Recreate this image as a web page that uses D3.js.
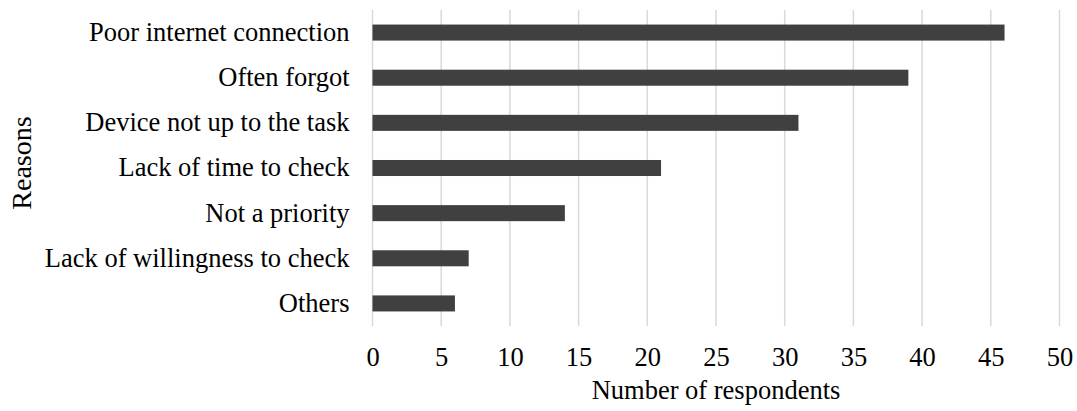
<!DOCTYPE html>
<html>
<head>
<meta charset="utf-8">
<script src="https://cdn.jsdelivr.net/npm/d3@7"></script>
<style>
  html, body { margin: 0; padding: 0; background: #fff; }
  svg { display: block; }
  text { font-family: "Liberation Serif", "Times New Roman", serif; fill: #000; }
</style>
</head>
<body>
<svg id="chart" width="1077" height="411"></svg>
<script>
// Reasons for not checking, with respondent counts
const reasons = [
  "Poor internet connection",
  "Often forgot",
  "Device not up to the task",
  "Lack of time to check",
  "Not a priority",
  "Lack of willingness to check",
  "Others"
];
const respondents = [46, 39, 31, 21, 14, 7, 6];
const xTicks = [0, 5, 10, 15, 20, 25, 30, 35, 40, 45, 50];

const svg = d3.select("#chart");
const margin = { left: 372.5, right: 1077 - 1059.5, top: 10, bottom: 411 - 326 };
const width = 1077, height = 411;
const fontSize = 26.5;

const x = d3.scaleLinear().domain([0, 50]).range([margin.left, width - margin.right]);
const y = d3.scaleBand().domain(reasons).range([margin.top, height - margin.bottom]).paddingInner(0.645).paddingOuter(0.3225);

// vertical gridlines
svg.append("g")
  .selectAll("line")
  .data(xTicks)
  .join("line")
  .attr("x1", d => x(d)).attr("x2", d => x(d))
  .attr("y1", margin.top).attr("y2", height - margin.bottom)
  .attr("stroke", "#d9d9d9")
  .attr("stroke-width", 1.5);

// bars
svg.append("g")
  .selectAll("rect")
  .data(reasons.map((r, i) => ({ r, v: respondents[i] })))
  .join("rect")
  .attr("x", x(0))
  .attr("y", d => y(d.r))
  .attr("width", d => x(d.v) - x(0))
  .attr("height", y.bandwidth())
  .attr("fill", "#404040");

// x axis tick labels
const xAxis = d3.axisBottom(x).tickValues(xTicks).tickSize(0).tickPadding(0);
const gx = svg.append("g")
  .attr("transform", `translate(0, ${height - margin.bottom})`)
  .call(xAxis);
gx.select(".domain").remove();
gx.selectAll("text")
  .attr("y", 40)
  .attr("dy", null)
  .attr("font-size", fontSize)
  .attr("font-family", "Liberation Serif");

// y axis category labels
const yAxis = d3.axisLeft(y).tickSize(0).tickPadding(0);
const gy = svg.append("g")
  .attr("transform", `translate(${margin.left - 23}, 0)`)
  .call(yAxis);
gy.select(".domain").remove();
gy.selectAll("text")
  .attr("dy", "0.32em")
  .attr("font-size", fontSize)
  .attr("font-family", "Liberation Serif");

// axis titles
svg.append("text")
  .attr("x", (x(0) + x(50)) / 2)
  .attr("y", 399)
  .attr("text-anchor", "middle")
  .attr("font-size", fontSize)
  .text("Number of respondents");

svg.append("text")
  .attr("transform", `translate(31, 163) rotate(-90)`)
  .attr("text-anchor", "middle")
  .attr("font-size", 28)
  .text("Reasons");
</script>
</body>
</html>
